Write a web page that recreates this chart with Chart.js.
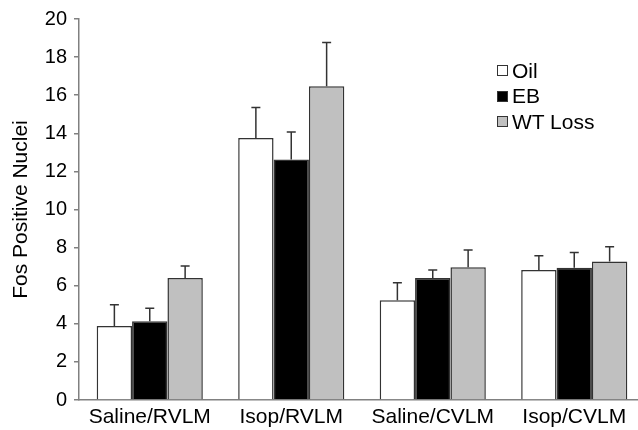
<!DOCTYPE html>
<html>
<head>
<meta charset="utf-8">
<script src="https://cdn.jsdelivr.net/npm/chart.js@4.4.1/dist/chart.umd.min.js"></script>
<style>
  html, body { margin: 0; padding: 0; background: #fff; overflow: hidden; }
  #wrap { position: relative; width: 646px; height: 430px; }
  #legend { position: absolute; left: 497px; top: 58px; font-family: "Liberation Sans", Arial, sans-serif; font-size: 21px; color: #000; }
  .row { display: flex; align-items: center; height: 25.5px; }
  .box { width: 9px; height: 9px; margin-right: 4px; border: 1px solid #333; }
</style>
</head>
<body>
<div id="wrap">
  <canvas id="chart" width="646" height="430"></canvas>
  <div id="legend"></div>
</div>
<script>
const categories = ['Saline/RVLM', 'Isop/RVLM', 'Saline/CVLM', 'Isop/CVLM'];
const seriesNames = ['Oil', 'EB', 'WT Loss'];
const oilValues = [3.88, 13.75, 5.23, 6.82];
const ebValues = [4.13, 12.62, 6.41, 6.94];
const wtValues = [6.41, 16.47, 6.97, 7.27];
const oilErr = [1.12, 1.61, 0.92, 0.75];
const ebErr = [0.68, 1.45, 0.42, 0.80];
const wtErr = [0.63, 2.30, 0.91, 0.77];
const yTicks = [0, 2, 4, 6, 8, 10, 12, 14, 16, 18, 20];
const barColors = ['#ffffff', '#000000', '#c0c0c0'];

const FONT = '"Liberation Sans", Arial, sans-serif';

// upward-only error bars with a cap
const errorBars = {
    id: 'errorBars',
    afterDatasetsDraw(chart) {
        const ctx = chart.ctx;
        const y = chart.scales.y;
        ctx.save();
        ctx.strokeStyle = '#333';
        ctx.lineWidth = 1.5;
        chart.data.datasets.forEach((ds, i) => {
            chart.getDatasetMeta(i).data.forEach((bar, j) => {
                const top = y.getPixelForValue(ds.data[j] + ds.errors[j]);
                ctx.beginPath();
                ctx.moveTo(bar.x, bar.y);
                ctx.lineTo(bar.x, top);
                ctx.moveTo(bar.x - 4.5, top);
                ctx.lineTo(bar.x + 4.5, top);
                ctx.stroke();
            });
        });
        ctx.restore();
    }
};

const ctx = document.getElementById('chart').getContext('2d');
const chart = new Chart(ctx, {
    type: 'bar',
    data: {
        labels: categories,
        datasets: [
            { label: seriesNames[0], data: oilValues, errors: oilErr, backgroundColor: barColors[0] },
            { label: seriesNames[1], data: ebValues, errors: ebErr, backgroundColor: barColors[1] },
            { label: seriesNames[2], data: wtValues, errors: wtErr, backgroundColor: barColors[2] }
        ].map(d => ({ ...d, borderColor: '#333', borderWidth: 1.5, categoryPercentage: 0.75, barPercentage: 1.0 }))
    },
    options: {
        responsive: false,
        animation: false,
        layout: { padding: { top: 9, right: 1, left: 0, bottom: 0 } },
        plugins: { legend: { display: false }, tooltip: { enabled: false } },
        scales: {
            x: {
                grid: { display: false, drawTicks: false },
                border: { color: '#808080', width: 1.5 },
                ticks: { color: '#000', font: { family: FONT, size: 21 }, padding: 5, maxRotation: 0 },
                afterFit: s => { s.height = 30; }
            },
            y: {
                min: 0, max: 20,
                afterBuildTicks: s => { s.ticks = yTicks.map(v => ({ value: v })); },
                grid: { drawOnChartArea: false, tickLength: 5, color: '#808080', lineWidth: 1.5 },
                border: { color: '#808080', width: 1.5 },
                ticks: { color: '#000', font: { family: FONT, size: 20 }, padding: 7 },
                title: { display: true, text: 'Fos Positive Nuclei', color: '#000', font: { family: FONT, size: 21 }, padding: { top: 9, bottom: 0 } },
                afterFit: s => { s.width = 79; }
            }
        }
    },
    plugins: [errorBars]
});

document.getElementById('legend').innerHTML = chart.data.datasets.map(ds => `
    <div class="row"><span class="box" style="background:${ds.backgroundColor}"></span>${ds.label}</div>
`).join('');
</script>
</body>
</html>
